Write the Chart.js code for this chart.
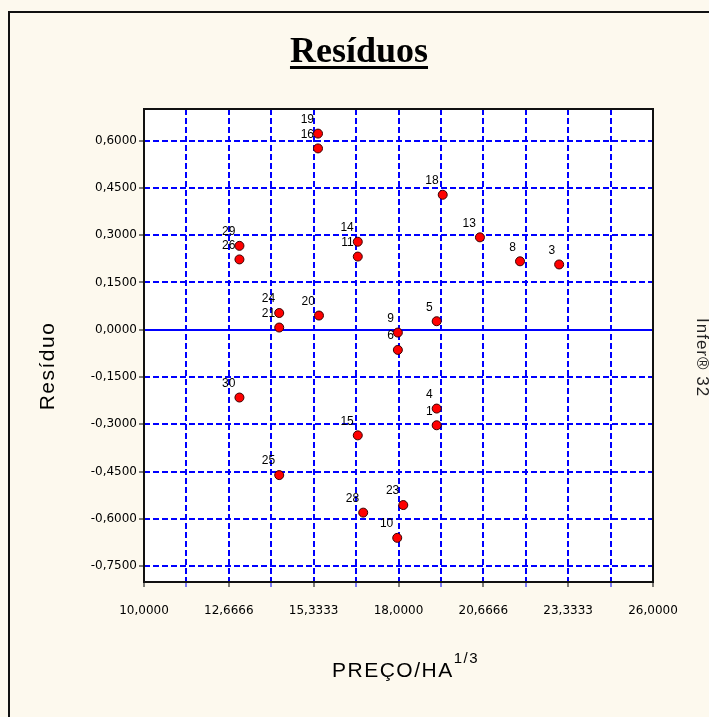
<!DOCTYPE html>
<html>
<head>
<meta charset="utf-8">
<script src="https://cdn.jsdelivr.net/npm/chart.js@4.4.1/dist/chart.umd.min.js"></script>
<style>
  html, body { margin: 0; padding: 0; background: #fdf9ee; }
  canvas { display: block; }
</style>
</head>
<body>
<canvas id="resChart" width="709" height="717"></canvas>
<script>
// point ids and residuals
const pointIds = ['19', '16', '29', '26', '14', '11', '24', '21', '20', '9', '6', '5',
                  '4', '1', '18', '13', '8', '3', '30', '25', '15', '28', '23', '10'];
const xValues = [15.47, 15.47, 13.00, 13.00, 16.72, 16.72, 14.25, 14.25, 15.50, 17.98, 17.98, 19.20,
                 19.20, 19.20, 19.39, 20.56, 21.82, 23.05, 13.00, 14.25, 16.72, 16.89, 18.15, 17.96];
const yValues = [0.622, 0.575, 0.266, 0.223, 0.279, 0.232, 0.053, 0.007, 0.045, -0.009, -0.064, 0.027,
                 -0.250, -0.303, 0.428, 0.293, 0.217, 0.207, -0.215, -0.461, -0.335, -0.580, -0.556, -0.660];

const xTicks = [10, 11.3333, 12.6666, 14, 15.3333, 16.6666, 18, 19.3333, 20.6666, 22, 23.3333, 24.6666, 26];
const xTickLabels = ['10,0000', '', '12,6666', '', '15,3333', '', '18,0000', '', '20,6666', '', '23,3333', '', '26,0000'];
const yTicks = [-0.75, -0.6, -0.45, -0.3, -0.15, 0, 0.15, 0.3, 0.45, 0.6];
const yTickLabels = ['-0,7500', '-0,6000', '-0,4500', '-0,3000', '-0,1500', '0,0000', '0,1500', '0,3000', '0,4500', '0,6000'];

const chartTitle = 'Resíduos';
const xTitle = 'PREÇO/HA';
const xTitleSup = '1/3';
const yTitle = 'Resíduo';
const sideNote = 'Infer® 32';

const BLUE = '#0000ff';

// background, outer frame and white plot area
const backdrop = {
  id: 'backdrop',
  beforeDraw(chart) {
    const c = chart.ctx, a = chart.chartArea;
    c.save();
    c.fillStyle = '#fdf9ee';
    c.fillRect(0, 0, chart.width, chart.height);
    c.fillStyle = '#111';
    c.fillRect(8, 11, chart.width - 8, 2);
    c.fillRect(8, 11, 2, chart.height - 11);
    c.fillStyle = '#ffffff';
    c.fillRect(a.left, a.top, a.right - a.left, a.bottom - a.top);
    c.restore();
  },
  beforeDatasetsDraw(chart) {
    const c = chart.ctx, a = chart.chartArea;
    const y0 = Math.round(chart.scales.y.getPixelForValue(0));
    c.save();
    c.strokeStyle = BLUE;
    c.lineWidth = 2;
    c.beginPath();
    c.moveTo(a.left, y0);
    c.lineTo(a.right, y0);
    c.stroke();

    // point labels, up and to the left of each marker
    c.fillStyle = '#000';
    c.font = '12px "Liberation Sans", Arial, sans-serif';
    c.textAlign = 'right';
    c.textBaseline = 'middle';
    chart.getDatasetMeta(0).data.forEach((pt, i) => {
      c.fillText(pointIds[i], pt.x - 4, pt.y - 14);
    });
    c.restore();
  },
  afterDraw(chart) {
    const c = chart.ctx, a = chart.chartArea;
    c.save();
    c.strokeStyle = '#111';
    c.lineWidth = 2;
    c.strokeRect(a.left, a.top, a.right - a.left, a.bottom - a.top);

    // title, underlined
    c.fillStyle = '#000';
    c.font = 'bold 36px "Liberation Serif", "Times New Roman", serif';
    c.textAlign = 'center';
    c.textBaseline = 'alphabetic';
    c.fillText(chartTitle, 359, 62);
    const tw = c.measureText(chartTitle).width;
    c.fillRect(359 - tw / 2, 66, tw, 3);

    // x axis title with superscript
    c.letterSpacing = '1.5px';
    c.font = '21px "Liberation Sans", Arial, sans-serif';
    c.textAlign = 'left';
    c.fillText(xTitle, 332, 677);
    const xw = c.measureText(xTitle).width;
    c.font = '15px "Liberation Sans", Arial, sans-serif';
    c.fillText(xTitleSup, 332 + xw, 663);

    // y axis title
    c.font = '21px "Liberation Sans", Arial, sans-serif';
    c.textAlign = 'center';
    c.save();
    c.translate(54, 366);
    c.rotate(-Math.PI / 2);
    c.fillText(yTitle, 0, 0);
    c.restore();

    // side note
    c.letterSpacing = '1px';
    c.font = '17px "Liberation Sans", Arial, sans-serif';
    c.fillStyle = '#222';
    c.textAlign = 'left';
    c.translate(697, 318);
    c.rotate(Math.PI / 2);
    c.fillText(sideNote, 0, 0);
    c.restore();
  }
};

const tickFont = { family: '"DejaVu Sans", sans-serif', size: 12 };

new Chart(document.getElementById('resChart'), {
  type: 'scatter',
  data: {
    datasets: [{
      data: xValues.map((x, i) => ({ x: x, y: yValues[i] })),
      backgroundColor: '#ff0000',
      borderColor: '#3a0000',
      borderWidth: 1,
      pointRadius: 4.5,
      pointHoverRadius: 4.5
    }]
  },
  options: {
    responsive: false,
    animation: false,
    events: [],
    layout: { padding: { top: 109, right: 56, bottom: 0, left: 0 } },
    plugins: { legend: { display: false }, tooltip: { enabled: false }, title: { display: false } },
    scales: {
      x: {
        type: 'linear',
        min: 10,
        max: 26,
        afterBuildTicks: scale => { scale.ticks = xTicks.map(v => ({ value: v })); },
        afterFit: scale => { scale.height = 135; },
        ticks: {
          autoSkip: false,
          maxRotation: 0,
          padding: 17,
          color: '#000',
          font: tickFont,
          callback: (v, i) => xTickLabels[i]
        },
        grid: {
          color: BLUE,
          lineWidth: 2,
          drawTicks: true,
          tickLength: 5,
          tickWidth: 1,
          tickBorderDash: [],
          tickColor: ctx => (ctx.index % 2 === 0 ? '#000' : BLUE)
        },
        border: { display: false, dash: [6, 3] }
      },
      y: {
        type: 'linear',
        min: -0.8,
        max: 0.7,
        afterBuildTicks: scale => { scale.ticks = yTicks.map(v => ({ value: v })); },
        afterFit: scale => { scale.width = 144; },
        ticks: {
          autoSkip: false,
          padding: 2,
          color: '#000',
          font: tickFont,
          callback: (v, i) => yTickLabels[i]
        },
        grid: {
          color: ctx => (ctx.tick && ctx.tick.value === 0 ? 'rgba(0,0,0,0)' : BLUE),
          lineWidth: 2,
          drawTicks: true,
          tickLength: 5,
          tickWidth: 1,
          tickBorderDash: [],
          tickColor: '#000'
        },
        border: { display: false, dash: [6, 3] }
      }
    }
  },
  plugins: [backdrop]
});
</script>
</body>
</html>
